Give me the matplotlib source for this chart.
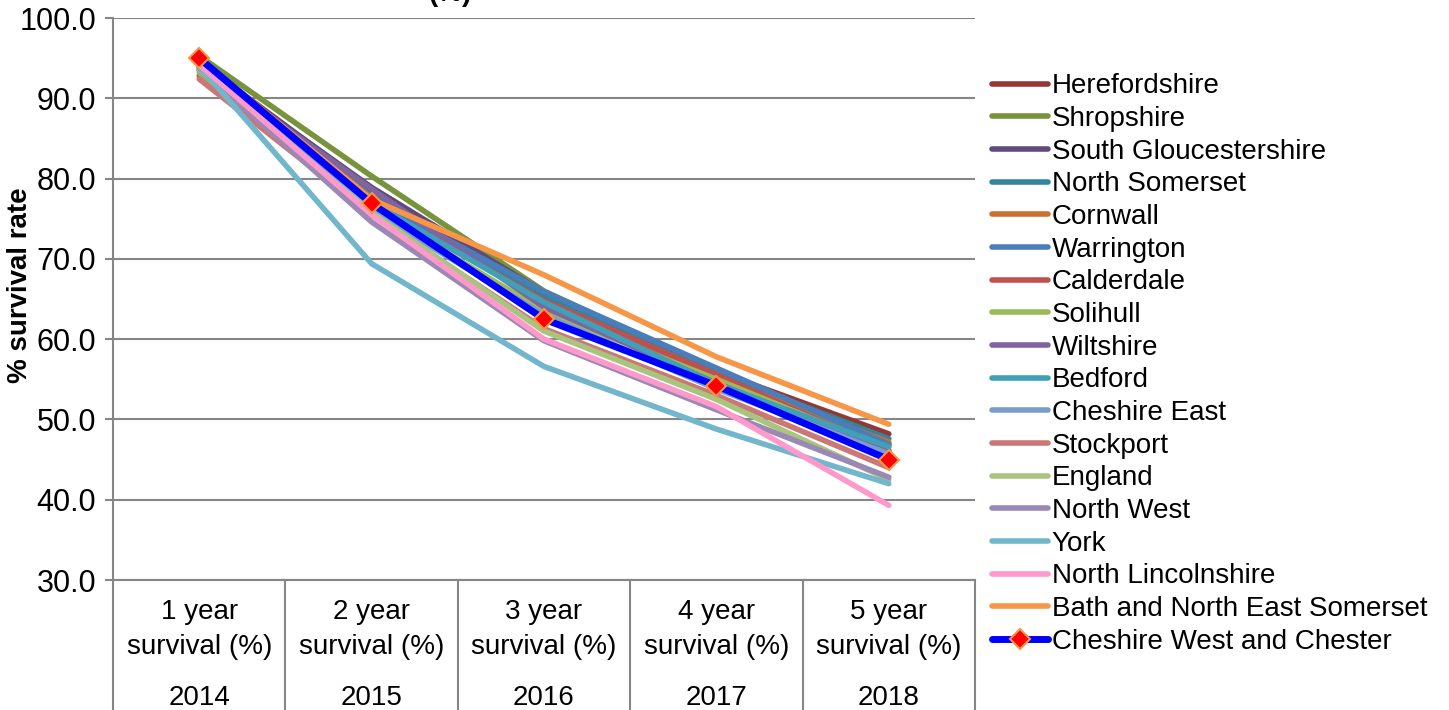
import matplotlib.pyplot as plt
import matplotlib.transforms as mtransforms

plt.rcParams['font.family'] = ['Liberation Sans', 'DejaVu Sans']

# categories (two-level axis)
measures = ['1 year\nsurvival (%)', '2 year\nsurvival (%)', '3 year\nsurvival (%)',
            '4 year\nsurvival (%)', '5 year\nsurvival (%)']
years = ['2014', '2015', '2016', '2017', '2018']

areas = ['Herefordshire', 'Shropshire', 'South Gloucestershire', 'North Somerset',
         'Cornwall', 'Warrington', 'Calderdale', 'Solihull', 'Wiltshire', 'Bedford',
         'Cheshire East', 'Stockport', 'England', 'North West', 'York',
         'North Lincolnshire', 'Bath and North East Somerset',
         'Cheshire West and Chester']

herefordshire = [94.6, 78.6, 65.0, 56.0, 48.2]
shropshire = [95.3, 80.3, 66.0, 56.0, 47.0]
south_glos = [94.2, 78.9, 65.8, 55.6, 46.8]
north_somerset = [94.0, 77.8, 65.2, 55.8, 47.6]
cornwall = [94.4, 77.6, 64.5, 55.2, 47.2]
warrington = [93.8, 77.5, 65.9, 56.4, 46.9]
calderdale = [92.8, 76.8, 64.8, 55.6, 46.0]
solihull = [93.2, 76.4, 63.5, 55.0, 46.2]
wiltshire = [94.0, 78.7, 64.0, 54.5, 46.1]
bedford = [93.5, 77.0, 64.6, 54.4, 46.6]
cheshire_east = [93.5, 76.0, 63.0, 53.8, 45.7]
stockport = [92.4, 75.5, 61.3, 53.0, 44.0]
england = [93.6, 75.8, 61.0, 52.5, 42.5]
north_west = [93.8, 74.6, 59.8, 51.2, 42.8]
york = [94.0, 69.4, 56.6, 48.8, 42.0]
north_lincs = [94.2, 75.5, 60.0, 51.6, 39.3]
bath = [95.0, 77.4, 68.0, 57.8, 49.4]
cheshire_west = [95.0, 76.9, 62.5, 54.2, 45.0]

series = [herefordshire, shropshire, south_glos, north_somerset, cornwall,
          warrington, calderdale, solihull, wiltshire, bedford, cheshire_east,
          stockport, england, north_west, york, north_lincs, bath, cheshire_west]

colors = ['#953735', '#77933C', '#604A7B', '#31859C', '#CC7030', '#4A7EBB',
          '#C0504D', '#9BBB59', '#8064A2', '#40A0B8', '#7B9BCB', '#CB7774',
          '#A9C47F', '#9A88B5', '#72B6CC', '#FF99CC', '#F79646', '#0000FF']

fig = plt.figure(figsize=(14.49, 7.10), dpi=100)
ax = fig.add_axes([113 / 1449, 1 - 580 / 710, 862 / 1449, 562 / 710])

x = list(range(len(years)))
for name, vals, col in zip(areas, series, colors):
    if name == 'Cheshire West and Chester':
        ax.plot(x, vals, color=col, lw=5, marker='D', markersize=10,
                markerfacecolor='#FF0000', markeredgecolor='#F79646',
                markeredgewidth=1.5, label=name, zorder=5, solid_capstyle='round')
    else:
        ax.plot(x, vals, color=col, lw=4, label=name, solid_capstyle='round')

ax.set_xlim(-0.5, 4.5)
ax.set_ylim(30, 100)
ax.set_yticks([30, 40, 50, 60, 70, 80, 90, 100])
ax.set_yticklabels([f'{v:.1f}' for v in [30, 40, 50, 60, 70, 80, 90, 100]])
ax.tick_params(axis='y', labelsize=22, length=6, width=1.5, color='#868686', pad=6)
ax.tick_params(axis='x', bottom=False, labelbottom=False)
ax.yaxis.grid(True, color='#868686', lw=1.5)
ax.set_axisbelow(True)
for s in ['top', 'right']:
    ax.spines[s].set_visible(False)
for s in ['left', 'bottom']:
    ax.spines[s].set_color('#868686')
    ax.spines[s].set_linewidth(1.5)

ax.set_ylabel('% survival rate', fontsize=20, fontweight='bold')
ax.yaxis.set_label_coords(-80 / 862, 0.525)

# two-level category axis below the plot
trans = mtransforms.blended_transform_factory(ax.transData, ax.transAxes)
depth = -130 / 562
for b in [-0.5, 0.5, 1.5, 2.5, 3.5, 4.5]:
    ax.plot([b, b], [0, depth], color='#868686', lw=1.5, transform=trans,
            clip_on=False)
for i, (m, yr) in enumerate(zip(measures, years)):
    ax.text(i, -49.5 / 562, m, transform=trans, ha='center', va='center',
            fontsize=20, linespacing=1.45)
    ax.text(i, -118 / 562, yr, transform=trans, ha='center', va='center',
            fontsize=20)

fig.text(450 / 1449, 1 - 7 / 710, '(%)', ha='center', va='bottom',
         fontsize=20, fontweight='bold')

ax.legend(loc='center left', bbox_to_anchor=(992 / 1449, 1 - 364 / 710),
          bbox_transform=fig.transFigure, frameon=False, fontsize=20,
          handlelength=2.0, handletextpad=0.15, labelspacing=0.24,
          borderpad=0, borderaxespad=0)

fig.savefig('out.png', dpi=100)
